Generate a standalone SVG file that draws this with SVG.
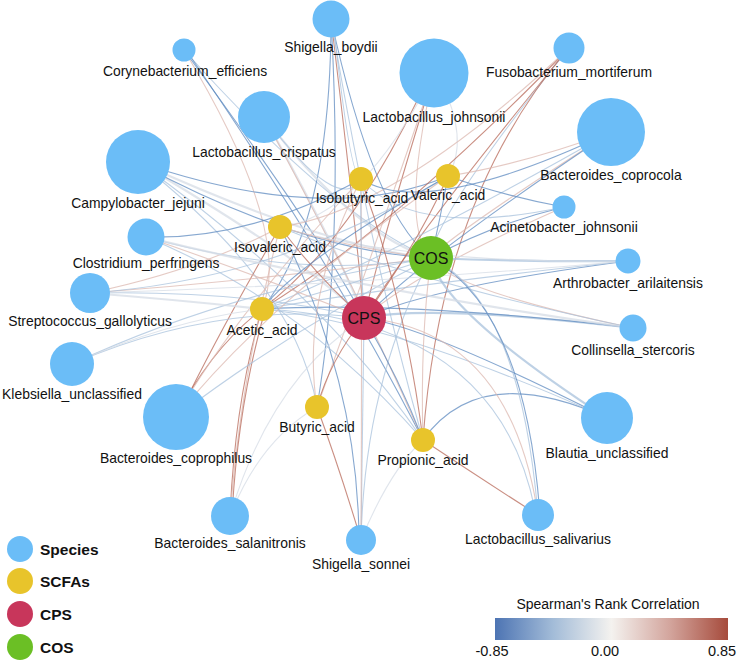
<svg xmlns="http://www.w3.org/2000/svg" width="738" height="665" viewBox="0 0 738 665">
<defs>
<linearGradient id="cbar" x1="0" y1="0" x2="1" y2="0">
<stop offset="0" stop-color="#4d74b3"/>
<stop offset="0.25" stop-color="#a3bcd8"/>
<stop offset="0.5" stop-color="#f4f2ef"/>
<stop offset="0.75" stop-color="#d3a59d"/>
<stop offset="1" stop-color="#a64b3c"/>
</linearGradient>
<style>
text{font-family:"Liberation Sans",Arial,sans-serif;fill:#111;}
.lab{font-size:13.9px;text-anchor:middle;}
.in{font-size:16px;text-anchor:middle;}
.leg{font-size:15.5px;font-weight:bold;}
.sp{fill:#6bbdf7;}
.sc{fill:#e8c42b;}
.cps{fill:#c8365b;}
.cos{fill:#6bbf25;}
#edges path{fill:none;stroke-width:1.1;opacity:0.75;}
.b{stroke:#5f8bc0;}
.lb{stroke:#a8c1dc;}
.g{stroke:#d6dce5;}
.lr{stroke:#dcb8b0;}
.r{stroke:#b8695a;}
.w{stroke-width:2.2 !important;}
</style>
</defs>
<rect width="738" height="665" fill="#ffffff"/>
<g id="edges">
<path class="b" d="M184 50 Q319 234 364 318"/>
<path class="lb" d="M184 50 Q336 219 431 258"/>
<path class="lr" d="M184 50 Q294 232 262 309"/>
<path class="b" d="M186 50 Q334 265 423 440"/>
<path class="r" d="M331 19 Q356 227 364 318"/>
<path class="b" d="M331 19 Q373 212 431 258"/>
<path class="b" d="M331 19 Q344 249 317 407"/>
<path class="lb" d="M331 19 Q371 257 423 440"/>
<path class="b" d="M331 19 Q331 224 262 309"/>
<path class="lb" d="M333 19 Q350 180 361 179"/>
<path class="g w" d="M264 117 Q339 251 364 318"/>
<path class="g w" d="M264 117 Q356 236 431 258"/>
<path class="lb" d="M264 117 Q339 216 361 179"/>
<path class="lr" d="M264 117 Q354 282 423 440"/>
<path class="g w" d="M138 162 Q308 262 364 318"/>
<path class="g w" d="M138 162 Q325 247 431 258"/>
<path class="b" d="M138 162 Q329 227 448 176"/>
<path class="lb" d="M138 162 Q323 293 423 440"/>
<path class="lb" d="M138 162 Q296 285 317 407"/>
<path class="b" d="M140 164 Q300 250 431 258"/>
<path class="r" d="M434 73 Q382 240 364 318"/>
<path class="lr" d="M434 73 Q399 225 431 258"/>
<path class="r" d="M430 73 Q356 238 262 309"/>
<path class="lr" d="M434 73 Q370 262 317 407"/>
<path class="g" d="M434 73 Q361 217 280 227"/>
<path class="g" d="M440 80 Q470 140 448 176"/>
<path class="r" d="M569 48 Q416 234 364 318"/>
<path class="r" d="M569 48 Q390 232 262 309"/>
<path class="lr" d="M569 48 Q395 211 280 227"/>
<path class="lb" d="M569 48 Q432 219 431 258"/>
<path class="r" d="M567 50 Q440 200 423 440"/>
<path class="lr" d="M611 132 Q520 165 448 176"/>
<path class="lr" d="M611 132 Q443 240 431 258"/>
<path class="b" d="M611 132 Q426 255 364 318"/>
<path class="b" d="M611 132 Q425 220 361 179"/>
<path class="lb" d="M611 132 Q400 252 262 309"/>
<path class="b" d="M564 207 Q490 225 431 258"/>
<path class="lr" d="M564 207 Q414 273 364 318"/>
<path class="lb" d="M564 207 Q413 239 361 179"/>
<path class="b" d="M564 207 Q500 195 448 176"/>
<path class="lb w" d="M628 261 Q530 262 431 258"/>
<path class="b" d="M628 261 Q430 287 364 318"/>
<path class="lb" d="M628 261 Q405 285 262 309"/>
<path class="g" d="M628 261 Q409 264 280 227"/>
<path class="lr" d="M633 328 Q448 289 431 258"/>
<path class="lb w" d="M633 328 Q431 304 364 318"/>
<path class="b" d="M633 328 Q406 301 262 309"/>
<path class="lb" d="M633 328 Q410 281 280 227"/>
<path class="lb w" d="M607 418 Q442 311 431 258"/>
<path class="b" d="M607 418 Q425 326 364 318"/>
<path class="b" d="M607 418 Q480 360 423 440"/>
<path class="lb" d="M607 418 Q400 324 262 309"/>
<path class="r" d="M538 515 Q480 478 423 440"/>
<path class="lb" d="M538 515 Q520 300 431 258"/>
<path class="lr" d="M538 515 Q510 330 364 318"/>
<path class="lb" d="M536 515 Q500 320 262 309"/>
<path class="b" d="M540 515 Q525 310 431 258"/>
<path class="r" d="M361 540 Q340 470 317 407"/>
<path class="lb" d="M361 540 Q362 430 364 318"/>
<path class="lb" d="M361 540 Q365 380 431 258"/>
<path class="lr" d="M361 540 Q362 350 361 179"/>
<path class="g" d="M361 540 Q390 470 423 440"/>
<path class="b" d="M359 540 Q358 380 280 227"/>
<path class="r" d="M230 516 Q235 400 262 309"/>
<path class="lr" d="M230 516 Q240 380 280 227"/>
<path class="g" d="M230 516 Q260 440 317 407"/>
<path class="g" d="M230 516 Q270 380 364 318"/>
<path class="r" d="M232 516 Q238 400 268 300"/>
<path class="r" d="M176 417 Q210 350 262 309"/>
<path class="lr" d="M176 417 Q230 320 361 179"/>
<path class="lb" d="M176 417 Q290 330 431 258"/>
<path class="lr" d="M176 417 Q270 300 448 176"/>
<path class="r" d="M180 412 Q220 330 280 227"/>
<path class="lb" d="M72 364 Q220 300 364 318"/>
<path class="lb" d="M72 364 Q230 290 431 258"/>
<path class="g" d="M72 364 Q170 320 262 309"/>
<path class="lr" d="M90 293 Q260 280 431 258"/>
<path class="lb" d="M90 293 Q250 290 364 318"/>
<path class="g w" d="M90 293 Q180 300 262 309"/>
<path class="lr" d="M90 293 Q200 270 280 227"/>
<path class="lb" d="M90 293 Q280 280 448 176"/>
<path class="g" d="M90 293 Q360 285 628 261"/>
<path class="lb" d="M146 237 Q300 280 431 258"/>
<path class="lr" d="M146 237 Q270 280 364 318"/>
<path class="b" d="M146 237 Q250 240 361 179"/>
<path class="lb" d="M146 237 Q300 300 423 440"/>
<path class="g w" d="M146 237 Q360 290 633 328"/>
<path class="r" d="M280 227 Q320 280 364 318"/>
<path class="lr" d="M280 227 Q360 250 431 258"/>
<path class="lb" d="M361 179 Q360 250 364 318"/>
<path class="b" d="M448 176 Q440 220 431 258"/>
<path class="lb" d="M262 309 Q350 285 431 258"/>
<path class="r" d="M317 407 Q330 360 364 318"/>
<path class="lr" d="M423 440 Q420 340 431 258"/>
<path class="b" d="M423 440 Q400 380 364 318"/>
<path class="r" d="M448 176 Q420 240 364 318"/>
<path class="b" d="M262 309 Q300 260 448 176"/>
<path class="lr" d="M317 407 Q300 300 361 179"/>
<path class="r" d="M423 440 Q405 300 361 179"/>
</g>
<g id="n-cory"><circle class="sp" cx="184" cy="50" r="11.5"/><text class="lab" x="185" y="76">Corynebacterium_efficiens</text></g>
<g id="n-shb"><circle class="sp" cx="331" cy="19" r="18.5"/><text class="lab" x="331" y="52">Shigella_boydii</text></g>
<g id="n-lcr"><circle class="sp" cx="264" cy="117" r="26"/><text class="lab" x="264" y="157">Lactobacillus_crispatus</text></g>
<g id="n-camp"><circle class="sp" cx="138" cy="162" r="32"/><text class="lab" x="138" y="208">Campylobacter_jejuni</text></g>
<g id="n-ljo"><circle class="sp" cx="434" cy="73" r="34.5"/><text class="lab" x="434" y="122">Lactobacillus_johnsonii</text></g>
<g id="n-fuso"><circle class="sp" cx="569" cy="48" r="15.5"/><text class="lab" x="569" y="77">Fusobacterium_mortiferum</text></g>
<g id="n-bcoc"><circle class="sp" cx="611" cy="132" r="34"/><text class="lab" x="611" y="180">Bacteroides_coprocola</text></g>
<g id="n-acin"><circle class="sp" cx="564" cy="207" r="11.5"/><text class="lab" x="564" y="232">Acinetobacter_johnsonii</text></g>
<g id="n-arth"><circle class="sp" cx="628" cy="261" r="12.5"/><text class="lab" x="628" y="288">Arthrobacter_arilaitensis</text></g>
<g id="n-coll"><circle class="sp" cx="633" cy="328" r="13.5"/><text class="lab" x="633" y="355">Collinsella_stercoris</text></g>
<g id="n-blau"><circle class="sp" cx="607" cy="418" r="26"/><text class="lab" x="607" y="458">Blautia_unclassified</text></g>
<g id="n-lsal"><circle class="sp" cx="538" cy="515" r="16"/><text class="lab" x="538" y="544">Lactobacillus_salivarius</text></g>
<g id="n-shs"><circle class="sp" cx="361" cy="540" r="15"/><text class="lab" x="361" y="569">Shigella_sonnei</text></g>
<g id="n-bsal"><circle class="sp" cx="230" cy="516" r="19"/><text class="lab" x="230" y="548">Bacteroides_salanitronis</text></g>
<g id="n-bcop"><circle class="sp" cx="176" cy="417" r="33"/><text class="lab" x="176" y="463">Bacteroides_coprophilus</text></g>
<g id="n-kleb"><circle class="sp" cx="72" cy="364" r="22"/><text class="lab" x="72" y="399">Klebsiella_unclassified</text></g>
<g id="n-strep"><circle class="sp" cx="90" cy="293" r="20"/><text class="lab" x="90" y="326">Streptococcus_gallolyticus</text></g>
<g id="n-clos"><circle class="sp" cx="146" cy="237" r="18.5"/><text class="lab" x="146" y="268">Clostridium_perfringens</text></g>
<g id="n-iso"><circle class="sc" cx="280" cy="227" r="12"/><text class="lab" x="280" y="252">Isovaleric_acid</text></g>
<g id="n-isob"><circle class="sc" cx="361" cy="179" r="12"/><text class="lab" x="362" y="203">Isobutyric_acid</text></g>
<g id="n-val"><circle class="sc" cx="448" cy="176" r="12"/><text class="lab" x="448" y="200">Valeric_acid</text></g>
<g id="n-ace"><circle class="sc" cx="262" cy="309" r="12"/><text class="lab" x="262" y="335">Acetic_acid</text></g>
<g id="n-but"><circle class="sc" cx="317" cy="407" r="12"/><text class="lab" x="317" y="432">Butyric_acid</text></g>
<g id="n-pro"><circle class="sc" cx="423" cy="440" r="12"/><text class="lab" x="423" y="465">Propionic_acid</text></g>
<g id="n-cps"><circle class="cps" cx="364" cy="318" r="22"/><text class="in" x="364" y="324">CPS</text></g>
<g id="n-cos"><circle class="cos" cx="431" cy="258" r="22"/><text class="in" x="431" y="264">COS</text></g>
<g id="legend">
<circle class="sp" cx="20" cy="549" r="13"/><text class="leg" x="40" y="555">Species</text>
<circle class="sc" cx="20" cy="581" r="13"/><text class="leg" x="40" y="587">SCFAs</text>
<circle class="cps" cx="20" cy="614" r="13"/><text class="leg" x="40" y="620">CPS</text>
<circle class="cos" cx="20" cy="647" r="13"/><text class="leg" x="40" y="653">COS</text>
</g>
<g id="colorbar">
<text x="608" y="609" font-size="14" text-anchor="middle">Spearman's Rank Correlation</text>
<rect x="495" y="618" width="233" height="22" fill="url(#cbar)"/>
<text x="492" y="656" font-size="14.5" text-anchor="middle">-0.85</text>
<text x="605" y="656" font-size="14.5" text-anchor="middle">0.00</text>
<text x="722" y="656" font-size="14.5" text-anchor="middle">0.85</text>
</g>
</svg>
